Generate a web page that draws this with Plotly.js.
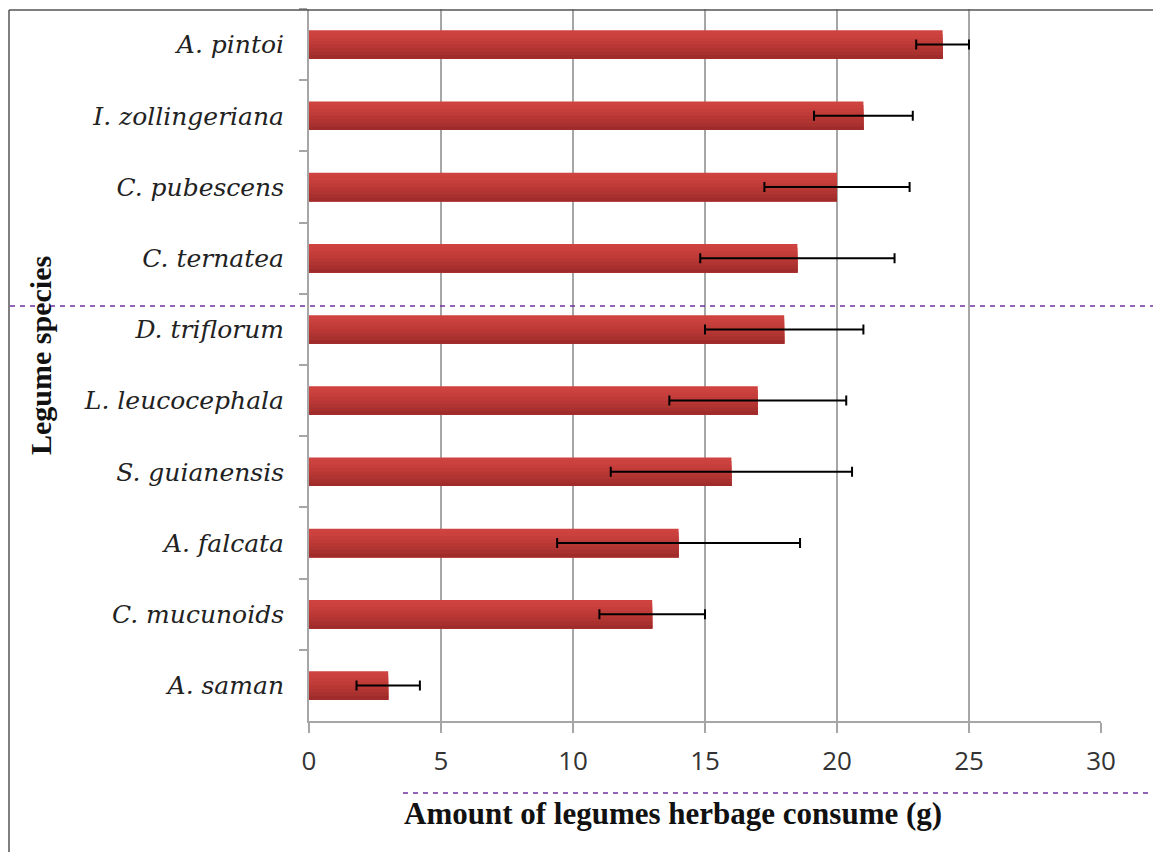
<!DOCTYPE html>
<html>
<head>
<meta charset="utf-8">
<script src="https://cdn.plot.ly/plotly-3.0.1.min.js"></script>
<style>
  html, body { margin: 0; padding: 0; background: #fff; }
  #chart { width: 1153px; height: 852px; }
</style>
</head>
<body>
<div id="chart"></div>
<script>
// Data (top to bottom as shown)
const species = ["A. pintoi", "I. zollingeriana", "C. pubescens", "C. ternatea", "D. triflorum",
                 "L. leucocephala", "S. guianensis", "A. falcata", "C. mucunoids", "A. saman"];
const consumed = [24, 21, 20, 18.5, 18, 17, 16, 14, 13, 3];
const errorSD = [1.0, 1.87, 2.75, 3.68, 3.0, 3.35, 4.57, 4.6, 2.0, 1.2];
const xTicks = [0, 5, 10, 15, 20, 25, 30];

const common = { type: "bar", orientation: "h", x: consumed, y: species, hoverinfo: "x+y", showlegend: false };

// vertical shading of the bars (light top -> dark bottom): each layer starts lower and reaches the bar bottom
const shade = ["#ce433f", "#ca413e", "#c53e3b", "#bf3b38", "#b83734", "#b03431", "#a8302e", "#9f2c2a"];
const step = 0.4 / shade.length;
const traces = shade.map((c, i) => Object.assign({}, common, {
  width: 0.4 - i * step, offset: -0.2 + i * step,
  marker: { color: c, line: { width: 0 } }
}));
traces.push(Object.assign({}, common, {
  width: 0.4,
  marker: { color: "rgba(0,0,0,0)", line: { width: 0 } },
  error_x: { type: "data", array: errorSD, visible: true, color: "#000", thickness: 2, width: 5 }
}));

// pixel -> paper helpers (plot area: x 309..1101, y 9..721)
const px = v => (v - 309) / 792;
const py = v => (721 - v) / 712;

const layout = {
  width: 1153, height: 852,
  margin: { l: 309, r: 52, t: 9, b: 131 },
  paper_bgcolor: "#fff", plot_bgcolor: "#fff",
  barmode: "overlay",
  xaxis: {
    range: [0, 30],
    tickvals: xTicks,
    ticktext: xTicks.map(String),
    showgrid: true, gridcolor: "#a6a6a6", gridwidth: 2,
    showline: true, linecolor: "#a6a6a6", linewidth: 2,
    ticks: "outside", ticklen: 10, tickcolor: "#a6a6a6", tickwidth: 2,
    ticklabelstandoff: 6,
    tickfont: { family: "Open Sans, Liberation Sans, sans-serif", size: 26, color: "#333" },
    zeroline: false, fixedrange: true
  },
  yaxis: {
    type: "category",
    autorange: "reversed",
    showgrid: false,
    showline: true, linecolor: "#a6a6a6", linewidth: 2,
    ticks: "outside", ticklen: 8, tickcolor: "#a6a6a6", tickwidth: 2,
    tickson: "boundaries",
    ticklabelstandoff: 18,
    tickfont: { family: "DejaVu Serif, Liberation Serif, serif", size: 25, style: "italic", color: "#222" },
    fixedrange: true
  },
  shapes: [
    // outer frame (top and left edges)
    { type: "line", xref: "paper", yref: "paper", x0: px(9), x1: px(1153), y0: py(10), y1: py(10), line: { color: "#555", width: 1.5 } },
    { type: "line", xref: "paper", yref: "paper", x0: px(9), x1: px(9), y0: py(10), y1: py(852), line: { color: "#555", width: 1.5 } },
    // purple dashed separators
    { type: "line", xref: "paper", yref: "paper", x0: px(10), x1: px(1153), y0: py(306), y1: py(306), line: { color: "#7030a0", width: 1.5, dash: "5px,5px" } },
    { type: "line", xref: "paper", yref: "paper", x0: px(403), x1: px(1153), y0: py(793), y1: py(793), line: { color: "#7030a0", width: 1.5, dash: "5px,5px" } }
  ],
  annotations: [
    { xref: "paper", yref: "paper", x: px(673), y: py(813), xanchor: "center", yanchor: "middle", showarrow: false,
      text: "Amount of legumes herbage consume (g)",
      font: { family: "Liberation Serif, Times New Roman, serif", size: 31, weight: "bold", color: "#111" } },
    { xref: "paper", yref: "paper", x: px(40), y: py(356), xanchor: "center", yanchor: "middle", showarrow: false,
      textangle: -90, text: "Legume species",
      font: { family: "Liberation Serif, Times New Roman, serif", size: 30, weight: "bold", color: "#111" } }
  ]
};

Plotly.newPlot("chart", traces, layout, { displayModeBar: false, staticPlot: true });
</script>
</body>
</html>
